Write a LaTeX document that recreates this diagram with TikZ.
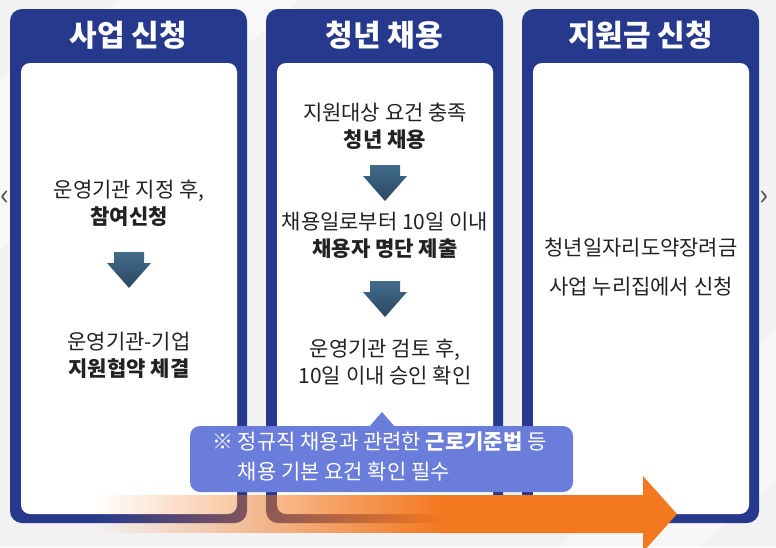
\documentclass[tikz,border=0pt]{standalone}
\usepackage{fontspec}
\setmainfont{Noto Sans CJK KR}
\usetikzlibrary{fadings,calc}
\definecolor{bgc}{HTML}{F2F2F3}
\definecolor{pblue}{HTML}{27398C}
\definecolor{txt}{HTML}{222222}
\definecolor{callc}{HTML}{6A7DDB}
\definecolor{orng}{HTML}{F47820}
\definecolor{arrtop}{HTML}{416C8A}
\definecolor{arrbot}{HTML}{2C4763}
\definecolor{chev}{HTML}{555555}
\tikzfading[name=fadeinright, left color=transparent!100, right color=transparent!0]
\tikzset{
  outerbox/.style={fill=pblue, rounded corners=12pt, inner sep=0pt, minimum width=237pt, minimum height=514pt},
  innerbox/.style={fill=white, rounded corners=9pt, inner sep=0pt, minimum width=216pt, minimum height=451pt},
  headtxt/.style={text=white, font=\fontsize{30}{32}\selectfont\bfseries, inner sep=0pt},
  body/.style={text=txt, font=\fontsize{21}{27}\selectfont, align=center, inner sep=0pt},
  body3/.style={text=txt, font=\fontsize{21}{39}\selectfont, align=center, inner sep=0pt},
  notetxt/.style={text=white, font=\fontsize{21}{30}\selectfont, align=left, inner sep=0pt, anchor=west},
  chevtxt/.style={text=chev, font=\fontsize{30}{32}\selectfont, inner sep=0pt},
  dnarrow/.pic={\shade[top color=arrtop, bottom color=arrbot]
     (-15,-18) -- (15,-18) -- (15,-7) -- (22,-7) -- (0,18) -- (-22,-7) -- (-15,-7) -- cycle;}
}
\begin{document}
\begin{tikzpicture}[x=1pt,y=-1pt]
\useasboundingbox (0,0) rectangle (776,547);
\clip (0,0) rectangle (776,547);
\fill[bgc] (0,0) rectangle (776,547);
\fill[white, opacity=0.5] (0,80) -- (120,0) -- (300,0) -- (0,250) -- cycle;
\fill[white, opacity=0.4] (560,547) -- (776,330) -- (776,480) -- (700,547) -- cycle;

% side chevrons
\node[chevtxt] (cl) at (5,198) {‹};
\node[chevtxt] (cr) at (764,198) {›};

% panels
\node[outerbox] (p1) at (128.5,266) {};
\node[innerbox] (q1) at (129,288.5) {};
\node[outerbox] (p2) at (384.5,266) {};
\node[innerbox] (q2) at (385,288.5) {};
\node[outerbox] (p3) at (640.5,266) {};
\node[innerbox] (q3) at (641,288.5) {};

\node[headtxt] (h1) at (128.5,35) {사업 신청};
\node[headtxt] (h2) at (384.5,35) {청년 채용};
\node[headtxt] (h3) at (640.5,35) {지원금 신청};

% panel 1
\node[body] (t11) at (129,203) {운영기관 지정 후,\\\textbf{참여신청}};
\pic (a11) at (129,270) {dnarrow};
\node[body] (t12) at (129,355.5) {운영기관-기업\\\textbf{지원협약 체결}};

% panel 2
\node[body] (t21) at (385,126) {지원대상 요건 충족\\\textbf{청년 채용}};
\pic (a21) at (385,183) {dnarrow};
\node[body] (t22) at (385,235) {채용일로부터 10일 이내\\\textbf{채용자 명단 제출}};
\pic (a22) at (385,299) {dnarrow};
\node[body] (t23) at (385,362) {운영기관 검토 후,\\10일 이내 승인 확인};

% panel 3
\node[body3] (t31) at (641,267.5) {청년일자리도약장려금\\사업 누리집에서 신청};

% orange flow arrow
\fill[orng, path fading=fadeinright, fit fading=true] (95,495) rectangle (442,533);
\fill[orng] (440,495) -- (643,495) -- (643,476) -- (677,514) -- (643,552) -- (643,533) -- (440,533) -- cycle;

% callout
\node[fill=callc, rounded corners=10pt, minimum width=383pt, minimum height=66pt, inner sep=0pt] (note) at (381.5,459) {};
\fill[callc] (369,427) -- (382,412) -- (395,427) -- cycle;
\node[notetxt] (nt) at (212,456) {※ 정규직 채용과 관련한 \textbf{근로기준법} 등\\\phantom{※ }채용 기본 요건 확인 필수};
\end{tikzpicture}
\end{document}
